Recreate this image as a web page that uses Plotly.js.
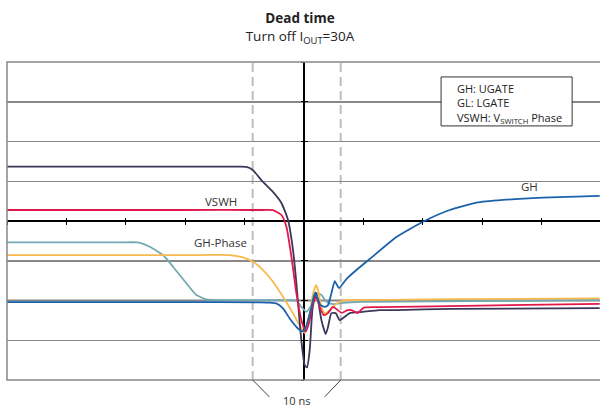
<!DOCTYPE html>
<html><head><meta charset="utf-8">
<script src="https://cdn.plot.ly/plotly-3.0.1.min.js"></script>
<style>html,body{margin:0;padding:0;background:#fff;overflow:hidden}#chart{width:600px;height:407px}</style>
</head><body><div id="chart"></div>
<script>
// time axis in scope divisions (0 = switching instant), voltage in divisions
const ugateX = [-5.0, -1.756, -1.10, -0.970, -0.864, -0.695, -0.527, -0.380, -0.269, -0.185, -0.128, -0.072, -0.027, 0.012, 0.051, 0.096, 0.141, 0.197, 0.236, 0.293, 0.365, 0.404, 0.461, 0.534, 0.601, 0.685, 0.769, 0.988, 1.274, 1.556, 2.453, 4.978];
const ugateY = [1.368, 1.368, 1.368, 1.362, 1.285, 0.990, 0.738, 0.453, 0.025, -0.730, -1.562, -2.569, -3.249, -3.627, -3.685, -3.249, -2.242, -1.796, -1.990, -2.494, -2.846, -2.670, -2.317, -2.317, -2.494, -2.411, -2.317, -2.285, -2.242, -2.24, -2.21, -2.191];

const vswhX = [-5.0, -2.0, -0.70, -0.522, -0.380, -0.296, -0.212, -0.128, -0.044, 0.029, 0.084, 0.152, 0.209, 0.264, 0.332, 0.404, 0.488, 0.632, 0.733, 0.800, 0.904, 1.005, 1.274, 2.453, 4.978];
const vswhY = [0.277, 0.277, 0.277, 0.272, 0.151, -0.144, -0.899, -1.814, -2.494, -2.788, -2.569, -2.065, -1.907, -2.159, -2.368, -2.317, -2.159, -2.310, -2.242, -2.242, -2.317, -2.179, -2.166, -2.141, -2.083];

const ghPhaseX = [-5.0, -1.756, -1.251, -1.027, -0.859, -0.690, -0.522, -0.354, -0.185, -0.044, 0.012, 0.096, 0.152, 0.206, 0.236, 0.293, 0.348, 0.404, 0.488, 0.601, 0.714, 0.988, 2.453, 4.978];
const ghPhaseY = [-0.856, -0.856, -0.856, -0.914, -1.025, -1.234, -1.529, -1.907, -2.325, -2.703, -2.814, -2.325, -1.821, -1.612, -1.738, -2.159, -2.325, -2.285, -2.159, -2.033, -1.990, -1.990, -1.965, -1.947];

const lgateX = [-5.0, -3.10, -2.795, -2.598, -2.374, -2.205, -1.980, -1.811, -1.643, -1.486, -0.30, -0.128, -0.044, 0.040, 0.125, 0.219, 0.293, 0.377, 0.488, 0.657, 0.988, 4.978];
const lgateY = [-0.537, -0.537, -0.540, -0.647, -0.856, -1.151, -1.569, -1.864, -1.972, -1.990, -1.990, -2.000, -2.159, -2.285, -2.116, -1.821, -1.864, -2.033, -2.091, -2.058, -2.033, -1.990];

const ghX = [-5.0, -2.0, -0.75, -0.577, -0.465, -0.354, -0.241, -0.128, -0.044, 0.012, 0.067, 0.125, 0.180, 0.219, 0.276, 0.348, 0.404, 0.461, 0.517, 0.556, 0.589, 0.714, 0.882, 1.106, 1.556, 2.027, 2.453, 2.902, 3.350, 4.024, 4.978];
const ghY = [-2.041, -2.043, -2.045, -2.052, -2.073, -2.199, -2.451, -2.662, -2.771, -2.746, -2.494, -2.159, -1.821, -1.907, -2.116, -2.159, -2.116, -1.821, -1.511, -1.612, -1.688, -1.461, -1.234, -0.957, -0.403, 0, 0.277, 0.461, 0.529, 0.587, 0.630];

const deadStart = -0.864, deadEnd = 0.618;   // 10 ns window
const groundLevel = -2;
const labelTexts = ['VSWH', 'GH-Phase', 'GH'];
const legendLines = ['GH: UGATE', 'GL: LGATE', 'VSWH: V<sub>SWITCH</sub> Phase'];

const xMin = -5, xMax = 4.983, yMin = -4, yMax = 4;
const px = v => (v - xMin) / (xMax - xMin);
const FONT = 'Open Sans, Noto Sans, sans-serif';
const GRID = '#888888';

function tr(x, y, color) {
  return {x, y, type: 'scatter', mode: 'lines', line: {color, width: 1.8, shape: 'spline', smoothing: 0.5},
          hoverinfo: 'skip', showlegend: false};
}
const data = [
  tr(lgateX, lgateY, '#72a9b3'),
  tr(ghPhaseX, ghPhaseY, '#f8b94f'),
  tr(ugateX, ugateY, '#3c3759'),
  tr(vswhX, vswhY, '#e0174b'),
  tr(ghX, ghY, '#1b62ab'),
  {x: [], y: [], xaxis: 'x2', yaxis: 'y2', type: 'scatter', mode: 'lines', showlegend: false, hoverinfo: 'skip'}
];

const axBase = {showticklabels: false, showline: false, tickcolor: '#000', tickwidth: 1, ticklen: 3};
const layout = {
  width: 600, height: 407,
  margin: {l: 7, r: 0, t: 62, b: 27},
  paper_bgcolor: '#fff', plot_bgcolor: '#fff',
  showlegend: false,
  font: {family: FONT, color: '#222'},
  title: {text: '<b>Dead time</b><br>Turn off I<sub>OUT</sub>=30A', font: {family: FONT, size: 13.5, color: '#222'},
          x: 0.5, xref: 'container', xanchor: 'center', y: 0.943, yref: 'container', yanchor: 'top'},
  xaxis: Object.assign({}, axBase, {range: [xMin, xMax], dtick: 1, tick0: 0, showgrid: false,
          zeroline: true, zerolinecolor: '#000', zerolinewidth: 1.5, ticks: 'outside',
          anchor: 'free', position: 0.5}),
  yaxis: Object.assign({}, axBase, {range: [yMin, yMax], dtick: 1, tick0: 0, showgrid: true,
          gridcolor: GRID, gridwidth: 1.5, zeroline: true, zerolinecolor: '#000', zerolinewidth: 1.5,
          ticks: 'outside', anchor: 'free', position: px(0)}),
  xaxis2: Object.assign({}, axBase, {range: [xMin, xMax], dtick: 1, tick0: 0, showgrid: false, zeroline: false,
          ticks: 'inside', overlaying: 'x', anchor: 'free', position: 0.5}),
  yaxis2: Object.assign({}, axBase, {range: [yMin, yMax], dtick: 1, tick0: 0, showgrid: false, zeroline: false,
          ticks: 'inside', overlaying: 'y', anchor: 'free', position: px(0)}),
  shapes: [
    {type: 'line', xref: 'paper', yref: 'y', x0: 0, x1: 1, y0: groundLevel, y1: groundLevel, layer: 'between',
     line: {color: '#000', width: 1.5}},
    {type: 'line', xref: 'x', yref: 'paper', x0: deadStart, x1: deadStart, y0: 0, y1: 1, layer: 'between',
     line: {color: '#bdbdbd', width: 2, dash: '9px,5px'}},
    {type: 'line', xref: 'x', yref: 'paper', x0: deadEnd, x1: deadEnd, y0: 0, y1: 1, layer: 'between',
     line: {color: '#bdbdbd', width: 2, dash: '9px,5px'}},
    {type: 'rect', xref: 'paper', yref: 'paper', x0: 0, x1: 1.01, y0: 0, y1: 1, layer: 'above',
     line: {color: GRID, width: 1.5}},
    {type: 'line', xref: 'paper', yref: 'paper', x0: px(deadStart), x1: px(deadStart + 0.28), y0: 0, y1: -0.053,
     line: {color: '#444', width: 1}},
    {type: 'line', xref: 'paper', yref: 'paper', x0: px(deadEnd), x1: px(deadEnd - 0.27), y0: 0, y1: -0.053,
     line: {color: '#444', width: 1}},
    {type: 'rect', xref: 'paper', yref: 'paper', x0: 0.732, x1: 0.953, y0: 0.799, y1: 0.953, layer: 'above',
     fillcolor: '#fff', line: {color: '#333', width: 1}}
  ],
  annotations: [
    {text: labelTexts[0], xref: 'x', yref: 'y', x: -1.40, y: 0.50, showarrow: false, font: {size: 11.5, color: '#333'}},
    {text: labelTexts[1], xref: 'x', yref: 'y', x: -1.40, y: -0.55, showarrow: false, font: {size: 11.5, color: '#333'}},
    {text: labelTexts[2], xref: 'x', yref: 'y', x: 3.80, y: 0.86, showarrow: false, font: {size: 11.5, color: '#333'}},
    {text: '10 ns', xref: 'paper', yref: 'paper', x: px((deadStart + deadEnd) / 2), y: -0.066, yanchor: 'middle',
     showarrow: false, font: {size: 11, color: '#333'}},
    {text: legendLines.join('<br>'), xref: 'paper', yref: 'paper', x: 0.7555, xanchor: 'left', y: 0.870,
     yanchor: 'middle', align: 'left', showarrow: false, font: {size: 11, color: '#222'}}
  ]
};
Plotly.newPlot('chart', data, layout, {displayModeBar: false, staticPlot: true});
</script>
</body></html>
